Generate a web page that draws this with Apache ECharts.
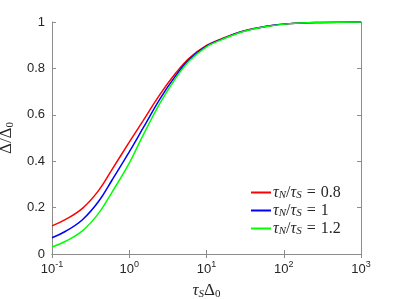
<!DOCTYPE html>
<html>
<head>
<meta charset="utf-8">
<script src="https://cdn.jsdelivr.net/npm/echarts@6/dist/echarts.min.js"></script>
<style>
html,body{margin:0;padding:0;background:#fff;}
#c{width:399px;height:299px;}
</style>
</head>
<body>
<div id="c"></div>
<script>
// x positions (tau_S * Delta_0)
var xs    = [0.1,   0.15,  0.25,  0.4,   0.6,   1,     1.5,   2.5,   4,     6,     10,    15,    30,    60,    120,   300,   1000];
// Delta / Delta_0 for tau_N/tau_S = 0.8
var red   = [0.121, 0.149, 0.198, 0.273, 0.365, 0.482, 0.573, 0.688, 0.780, 0.845, 0.899, 0.925, 0.961, 0.982, 0.993, 0.998, 1.0];
// tau_N/tau_S = 1
var blue  = [0.070, 0.098, 0.149, 0.226, 0.319, 0.440, 0.541, 0.669, 0.769, 0.839, 0.896, 0.923, 0.960, 0.982, 0.993, 0.998, 1.0];
// tau_N/tau_S = 1.2
var green = [0.030, 0.055, 0.101, 0.175, 0.267, 0.392, 0.510, 0.650, 0.758, 0.833, 0.893, 0.921, 0.959, 0.981, 0.993, 0.998, 1.0];
var ratios = ['0.8', '1', '1.2'];

function pairs(ys){ return xs.map(function(x,i){ return [x, ys[i]]; }); }
function legendName(r){ return '{i|τ}{s|N}{n|/}{i|τ}{s|S}{eq|=}{n|' + r + '}'; }

var serif = '"Liberation Serif","DejaVu Serif",serif';
var sans = '"Liberation Sans",Arial,Helvetica,sans-serif';
var axisCol = '#8c8c8c';
var txtCol = '#262626';

var chart = echarts.init(document.getElementById('c'), null, {renderer:'canvas'});
var colors = ['#ff0000', '#0000ff', '#00ff00'];
var data = [red, blue, green];
var series = data.map(function(d, k){
  return {
    name: legendName(ratios[k]),
    type: 'line',
    xAxisIndex: 0, yAxisIndex: 0,
    data: pairs(d),
    smooth: 0.4,
    showSymbol: false,
    symbol: 'none',
    lineStyle: {color: colors[k], width: 1.5},
    itemStyle: {color: colors[k]},
    animation: false
  };
});

chart.setOption({
  animation: false,
  backgroundColor: '#fff',
  grid: {left: 52, right: 38, top: 22, bottom: 45, containLabel: false, outerBoundsMode: 'none'},
  legend: {
    orient: 'vertical',
    left: 251, top: 184,
    itemWidth: 20, itemHeight: 2, itemGap: 1,
    icon: 'rect',
    backgroundColor: '#fff',
    padding: [0,0,0,0],
    textStyle: {
      fontFamily: serif, fontSize: 16, color: txtCol, padding: [0,0,0,-3],
      rich: {
        i: {fontFamily: serif, fontStyle: 'italic', fontSize: 16, lineHeight: 16, color: txtCol},
        s: {fontFamily: serif, fontStyle: 'italic', fontSize: 11, lineHeight: 10, color: txtCol, padding: [6,0,0,0]},
        n: {fontFamily: serif, fontSize: 16, lineHeight: 16, color: txtCol},
        eq: {fontFamily: serif, fontSize: 16, lineHeight: 16, color: txtCol, padding: [0,5,0,5]}
      }
    },
    data: series.map(function(s){ return s.name; })
  },
  xAxis: [{
    type: 'log', logBase: 10, min: 0.1, max: 1000, interval: 1,
    position: 'bottom',
    name: '{i|τ}{s|S}{n|Δ}{s0|0}',
    nameLocation: 'middle', nameGap: 27,
    nameTextStyle: {
      rich: {
        i: {fontFamily: serif, fontStyle: 'italic', fontSize: 17, color: txtCol},
        s: {fontFamily: serif, fontStyle: 'italic', fontSize: 11, color: txtCol, padding: [8,0,0,0]},
        n: {fontFamily: serif, fontSize: 17, color: txtCol},
        s0: {fontFamily: serif, fontSize: 11, color: txtCol, padding: [8,0,0,0]}
      }
    },
    axisLine: {show: true, lineStyle: {color: axisCol, width: 1}},
    axisTick: {show: true, inside: true, length: 4, lineStyle: {color: axisCol}},
    minorTick: {show: false},
    splitLine: {show: false},
    axisLabel: {
      margin: 6,
      formatter: function(v){ var e = Math.round(Math.log10(v)); return '{b|10}{sup|' + e + '}'; },
      rich: {
        b: {fontFamily: sans, fontSize: 13, color: txtCol, verticalAlign: 'bottom'},
        sup: {fontFamily: sans, fontSize: 9, color: txtCol, verticalAlign: 'bottom', padding: [0,0,7,0]}
      }
    }
  }, {
    type: 'log', logBase: 10, min: 0.1, max: 1000, interval: 1,
    position: 'top',
    axisLine: {show: true, lineStyle: {color: axisCol, width: 1}},
    axisTick: {show: true, inside: true, length: 4, lineStyle: {color: axisCol}},
    axisLabel: {show: false},
    splitLine: {show: false}
  }],
  yAxis: [{
    type: 'value', min: 0, max: 1, interval: 0.2,
    position: 'left',
    name: '{n|Δ/Δ}{s|0}',
    nameLocation: 'middle', nameGap: 27, nameRotate: 90,
    nameTextStyle: {
      rich: {
        n: {fontFamily: serif, fontSize: 17, color: txtCol},
        s: {fontFamily: serif, fontSize: 11, color: txtCol, padding: [8,0,0,0]}
      }
    },
    axisLine: {show: true, lineStyle: {color: axisCol, width: 1}},
    axisTick: {show: true, inside: true, length: 4, lineStyle: {color: axisCol}},
    splitLine: {show: false},
    axisLabel: {
      margin: 7, fontFamily: sans, fontSize: 13, color: txtCol,
      formatter: function(v){ return String(Math.round(v*10)/10); }
    }
  }, {
    type: 'value', min: 0, max: 1, interval: 0.2,
    position: 'right',
    axisLine: {show: true, lineStyle: {color: axisCol, width: 1}},
    axisTick: {show: true, inside: true, length: 4, lineStyle: {color: axisCol}},
    axisLabel: {show: false},
    splitLine: {show: false}
  }],
  series: series
});
</script>
</body>
</html>
